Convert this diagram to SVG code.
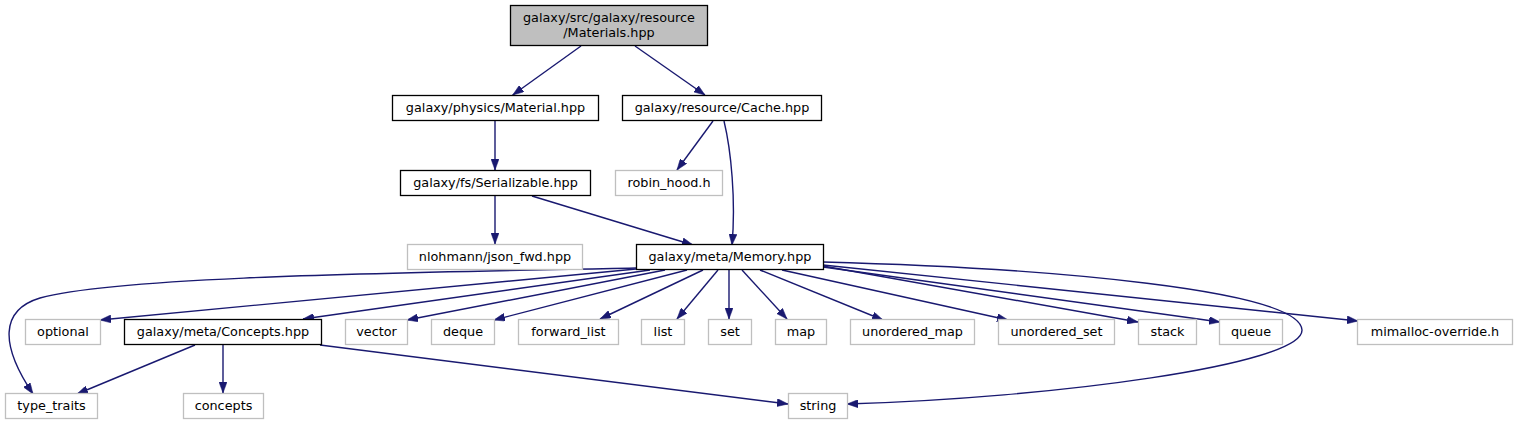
<svg xmlns="http://www.w3.org/2000/svg" width="1518" height="425" viewBox="0 0 1518 425">
<style>
text{font-family:"DejaVu Sans","Liberation Sans",sans-serif;font-size:12.8px;fill:#000;text-anchor:middle}
.n rect{fill:#fff;stroke:#000;stroke-width:1.3}
.g rect{fill:#fff;stroke:#bfbfbf;stroke-width:1.3}
.e path{fill:none;stroke:#191970;stroke-width:1.4;marker-end:url(#ah)}
</style>
<defs>
<marker id="ah" markerUnits="userSpaceOnUse" viewBox="0 0 11 8" refX="11" refY="4" markerWidth="11" markerHeight="8" orient="auto">
<path d="M0,0 L11,4 L0,8 z" fill="#191970" stroke="#191970" stroke-width="0.5"/>
</marker>
</defs>
<rect width="1518" height="425" fill="#fff"/>
<g class="e" id="edges">
<path d="M581,46 L512.7,95"/>
<path d="M635,46 L705,95"/>
<path d="M495,121 L495,170"/>
<path d="M713,121 L677,170"/>
<path d="M724,121 C731,150 736,200 732,245"/>
<path d="M495,196 L495,244"/>
<path d="M532,196 L693,245"/>
<path d="M636,268 C400,273 120,276 40,298 C0,310 0,345 33,394"/>
<path d="M636,269 L100,320"/>
<path d="M650,270 L303,319"/>
<path d="M665,270 L407,320"/>
<path d="M687,270 L494,320"/>
<path d="M703,270 L600,319"/>
<path d="M718,270 L677,319"/>
<path d="M729,270 L729,319"/>
<path d="M742,270 L787,319"/>
<path d="M760,270 L883,320"/>
<path d="M782,270 L1008,320"/>
<path d="M823,266 L1138,322"/>
<path d="M823,267 L1220,322"/>
<path d="M823,265 L1358,321"/>
<path d="M823,262 C1050,268 1300,290 1302,330 C1303,365 1050,398 847,404"/>
<path d="M195,345 L77,394"/>
<path d="M223,345 L223,393"/>
<path d="M320,345 L788,404"/>
</g>
<g id="n_materials"><rect x="510.5" y="5.5" width="197" height="40" fill="#bfbfbf" stroke="#000" stroke-width="1.3"/><text x="609" y="22">galaxy/src/galaxy/resource</text><text x="609" y="37">/Materials.hpp</text></g>
<g class="n" id="n_material"><rect x="392.5" y="95.5" width="206" height="25"/><text x="495.5" y="112">galaxy/physics/Material.hpp</text></g>
<g class="n" id="n_cache"><rect x="622.5" y="95.5" width="199" height="25"/><text x="722" y="112">galaxy/resource/Cache.hpp</text></g>
<g class="n" id="n_serializable"><rect x="400.5" y="170.5" width="190" height="25"/><text x="495.5" y="187">galaxy/fs/Serializable.hpp</text></g>
<g class="g" id="n_robin"><rect x="615.5" y="170.5" width="107" height="25"/><text x="669" y="187">robin_hood.h</text></g>
<g class="g" id="n_json"><rect x="407.5" y="244.5" width="175" height="25"/><text x="495" y="261">nlohmann/json_fwd.hpp</text></g>
<g class="n" id="n_memory"><rect x="636.5" y="244.5" width="187" height="25"/><text x="730" y="261">galaxy/meta/Memory.hpp</text></g>
<g class="g" id="n_optional"><rect x="25.5" y="319.5" width="75" height="25"/><text x="63" y="336">optional</text></g>
<g class="n" id="n_concepts_hpp"><rect x="124.5" y="319.5" width="197" height="25"/><text x="223" y="336">galaxy/meta/Concepts.hpp</text></g>
<g class="g" id="n_vector"><rect x="345.5" y="319.5" width="62" height="25"/><text x="376.5" y="336">vector</text></g>
<g class="g" id="n_deque"><rect x="431.5" y="319.5" width="63" height="25"/><text x="463" y="336">deque</text></g>
<g class="g" id="n_forward_list"><rect x="518.5" y="319.5" width="100" height="25"/><text x="568.5" y="336">forward_list</text></g>
<g class="g" id="n_list"><rect x="641.5" y="319.5" width="43" height="25"/><text x="663" y="336">list</text></g>
<g class="g" id="n_set"><rect x="708.5" y="319.5" width="43" height="25"/><text x="730" y="336">set</text></g>
<g class="g" id="n_map"><rect x="775.5" y="319.5" width="51" height="25"/><text x="801" y="336">map</text></g>
<g class="g" id="n_umap"><rect x="850.5" y="319.5" width="124" height="25"/><text x="912.5" y="336">unordered_map</text></g>
<g class="g" id="n_uset"><rect x="998.5" y="319.5" width="116" height="25"/><text x="1056.5" y="336">unordered_set</text></g>
<g class="g" id="n_stack"><rect x="1138.5" y="319.5" width="58" height="25"/><text x="1167.5" y="336">stack</text></g>
<g class="g" id="n_queue"><rect x="1219.5" y="319.5" width="63" height="25"/><text x="1251" y="336">queue</text></g>
<g class="g" id="n_mimalloc"><rect x="1357.5" y="319.5" width="155" height="25"/><text x="1435" y="336">mimalloc-override.h</text></g>
<g class="g" id="n_type_traits"><rect x="5.5" y="393.5" width="92" height="25"/><text x="51.5" y="410">type_traits</text></g>
<g class="g" id="n_concepts"><rect x="183.5" y="393.5" width="80" height="25"/><text x="223.5" y="410">concepts</text></g>
<g class="g" id="n_string"><rect x="788.5" y="393.5" width="59" height="25"/><text x="818" y="410">string</text></g>
</svg>
